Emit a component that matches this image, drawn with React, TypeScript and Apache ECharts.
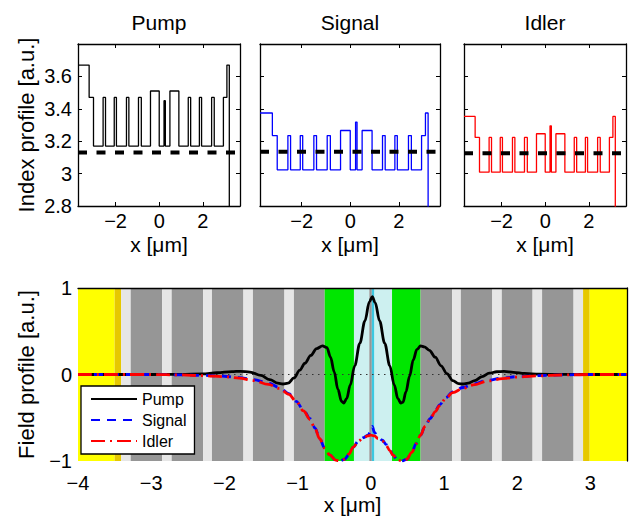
import React, { useEffect, useRef } from "react";
import * as echarts from "echarts";

const FONT = '"Liberation Sans", Arial, Helvetica, sans-serif';

// ---------- top panels: index profiles ----------
const indexXMin = -3.72;
const indexXMax = 3.7;
const indexYMin = 2.8;
const indexYMax = 3.8;
const indexTickX = [-2, 0, 2];
const indexTickY = [2.8, 3, 3.2, 3.4, 3.6];

const layerEdges = [-3.72, -3.21, -3.01, -2.57, -2.46, -2.06, -1.96, -1.5, -1.39, -0.95, -0.82, -0.4, 0.0, 0.22, 0.28, 0.49, 0.9, 1.33, 1.44, 1.84, 1.94, 2.4, 2.52, 2.94, 3.1, 3.21, 3.72];
const pumpIndex = [3.67, 3.47, 3.17, 3.47, 3.17, 3.47, 3.17, 3.47, 3.17, 3.47, 3.17, 3.51, 3.17, 3.45, 3.17, 3.51, 3.17, 3.47, 3.17, 3.47, 3.17, 3.47, 3.17, 3.47, 3.67, 1.0];
const signalIndex = [3.374, 3.235, 3.023, 3.235, 3.023, 3.235, 3.023, 3.235, 3.023, 3.235, 3.023, 3.266, 3.023, 3.318, 3.023, 3.266, 3.023, 3.235, 3.023, 3.235, 3.023, 3.235, 3.023, 3.235, 3.374, 1.0];
const idlerIndex = [3.353, 3.223, 3.009, 3.223, 3.009, 3.223, 3.009, 3.223, 3.009, 3.223, 3.009, 3.246, 3.009, 3.295, 3.009, 3.246, 3.009, 3.223, 3.009, 3.223, 3.009, 3.223, 3.009, 3.223, 3.353, 1.0];
const pumpNeff = 3.13;
const signalNeff = 3.135;
const idlerNeff = 3.125;

// ---------- bottom panel: field profiles ----------
const fieldXMin = -4;
const fieldXMax = 3.5;
const fieldYMin = -1;
const fieldYMax = 1;
const fieldTickX = [-4, -3, -2, -1, 0, 1, 2, 3];
const fieldTickY = [-1, 0, 1];

const bandEdges = [-4, -3.5, -3.41, -3.28, -2.85, -2.72, -2.29, -2.17, -1.74, -1.61, -1.18, -1.05, -0.63, -0.23, -0.02, 0.014, 0.05, 0.29, 0.68, 1.11, 1.23, 1.66, 1.79, 2.21, 2.34, 2.77, 2.9, 2.99, 3.5];
const bandKinds = ["substrate", "buffer", "high", "low", "high", "low", "high", "low", "high", "low", "high", "low", "core", "gap", "low", "defect", "gap", "core", "low", "high", "low", "high", "low", "high", "low", "high", "buffer", "substrate"];

const pumpField = [
  [-4.0, 0], [-3.0, 0], [-2.6, 0.002], [-2.3, 0.008], [-2.1, 0.02], [-1.9, 0.033], [-1.78, 0.037], [-1.65, 0.028],
  [-1.5, -0.01], [-1.38, -0.06], [-1.27, -0.1], [-1.2, -0.11], [-1.13, -0.1], [-1.05, -0.04], [-0.97, 0.05],
  [-0.9, 0.13], [-0.82, 0.22], [-0.74, 0.3], [-0.66, 0.33], [-0.6, 0.31], [-0.55, 0.2], [-0.5, 0.03],
  [-0.45, -0.17], [-0.4, -0.31], [-0.37, -0.33], [-0.33, -0.28], [-0.28, -0.12], [-0.22, 0.1], [-0.15, 0.36],
  [-0.08, 0.62], [-0.02, 0.84], [0.02, 0.9], [0.06, 0.83], [0.12, 0.62], [0.19, 0.36], [0.26, 0.1],
  [0.32, -0.12], [0.37, -0.28], [0.41, -0.33], [0.44, -0.32], [0.48, -0.2], [0.53, -0.02], [0.58, 0.17],
  [0.63, 0.29], [0.68, 0.33], [0.73, 0.32], [0.8, 0.28], [0.88, 0.2], [0.96, 0.1], [1.04, 0.01],
  [1.12, -0.07], [1.2, -0.105], [1.26, -0.11], [1.33, -0.1], [1.42, -0.07], [1.52, -0.025], [1.62, 0.015],
  [1.72, 0.032], [1.82, 0.035], [1.95, 0.025], [2.1, 0.012], [2.3, 0.004], [2.6, 0.001], [3.0, 0], [3.5, 0],
];
const signalField = [
  [-4, 0], [-3, 0], [-2.6, -0.004], [-2.3, -0.01], [-2.0, -0.02], [-1.8, -0.035], [-1.6, -0.06], [-1.4, -0.1],
  [-1.25, -0.15], [-1.12, -0.22], [-1.02, -0.31], [-0.92, -0.41], [-0.83, -0.51], [-0.76, -0.62], [-0.7, -0.74],
  [-0.63, -0.85], [-0.56, -0.93], [-0.48, -0.99], [-0.42, -1.0], [-0.36, -0.98], [-0.3, -0.93], [-0.24, -0.84],
  [-0.17, -0.77], [-0.1, -0.73], [-0.04, -0.7], [0.0, -0.66], [0.02, -0.6], [0.05, -0.67], [0.1, -0.73],
  [0.16, -0.76], [0.21, -0.81], [0.26, -0.87], [0.3, -0.93], [0.36, -0.98], [0.42, -1.0], [0.49, -0.98],
  [0.56, -0.9], [0.62, -0.8], [0.68, -0.7], [0.74, -0.6], [0.81, -0.51], [0.88, -0.42], [0.94, -0.35],
  [1.02, -0.27], [1.12, -0.2], [1.26, -0.15], [1.4, -0.11], [1.6, -0.065], [1.8, -0.04], [2.0, -0.025],
  [2.3, -0.012], [2.6, -0.005], [3.0, 0], [3.5, 0],
];
const idlerField = [
  [-4, 0], [-3, 0], [-2.6, -0.005], [-2.3, -0.013], [-2.0, -0.025], [-1.8, -0.042], [-1.6, -0.07], [-1.4, -0.115],
  [-1.25, -0.16], [-1.12, -0.23], [-1.02, -0.31], [-0.92, -0.42], [-0.83, -0.52], [-0.76, -0.63], [-0.7, -0.74],
  [-0.63, -0.85], [-0.56, -0.93], [-0.48, -0.99], [-0.42, -1.0], [-0.36, -0.98], [-0.3, -0.92], [-0.24, -0.84],
  [-0.17, -0.77], [-0.1, -0.73], [-0.04, -0.71], [0.0, -0.7], [0.05, -0.71], [0.1, -0.74], [0.16, -0.77],
  [0.21, -0.82], [0.26, -0.88], [0.3, -0.93], [0.36, -0.98], [0.42, -1.0], [0.49, -0.98], [0.56, -0.9],
  [0.62, -0.8], [0.68, -0.7], [0.74, -0.6], [0.81, -0.52], [0.88, -0.43], [0.94, -0.36], [1.02, -0.28],
  [1.12, -0.21], [1.26, -0.16], [1.4, -0.12], [1.6, -0.075], [1.8, -0.048], [2.0, -0.03], [2.3, -0.015],
  [2.6, -0.006], [3.0, 0], [3.5, 0],
];

const bandColors: Record<string, string> = {
  substrate: "#ffff00",
  buffer: "#e6c800",
  high: "#e6e6e6",
  low: "#969696",
  core: "#00e600",
  gap: "#cdf0f0",
  defect: "#3cc8e0",
};

const minusFmt = (v: number) => String(+Number(v).toFixed(2)).replace("-", "\u2212");

function stepPoints(edges: number[], values: number[]) {
  const pts: number[][] = [];
  for (let i = 0; i < values.length; i++) {
    pts.push([edges[i], values[i]]);
    pts.push([edges[i + 1], values[i]]);
  }
  return pts;
}

const tickFont = { color: "#000", fontSize: 20, fontFamily: FONT };
const nameFont = { color: "#000", fontSize: 21, fontFamily: FONT };
const ylabelFont = { color: "#000", fontSize: 22, fontFamily: FONT };

function topAxes(gridIndex: number, title: string, withY: boolean) {
  const line = { show: true, onZero: false, lineStyle: { color: "#000", width: 1.3 } };
  const xTick = { show: true, inside: true, length: 4, customValues: indexTickX, lineStyle: { color: "#000", width: 1 } };
  const yTick = { show: true, inside: true, length: 4, customValues: indexTickY, lineStyle: { color: "#000", width: 1 } };
  const xs = [
    {
      type: "value", gridIndex, min: indexXMin, max: indexXMax, position: "bottom",
      axisLine: line, axisTick: xTick,
      axisLabel: { ...tickFont, customValues: indexTickX, formatter: minusFmt, margin: 5 },
      splitLine: { show: false },
      name: "x [\u03bcm]", nameLocation: "middle", nameGap: 28, nameTextStyle: nameFont,
    },
    {
      type: "value", gridIndex, min: indexXMin, max: indexXMax, position: "top",
      axisLine: line, axisTick: xTick, axisLabel: { show: false }, splitLine: { show: false },
      name: title, nameLocation: "middle", nameGap: 11, nameTextStyle: nameFont,
    },
  ];
  const ys = [
    {
      type: "value", gridIndex, min: indexYMin, max: indexYMax, position: "left",
      axisLine: line, axisTick: yTick,
      axisLabel: withY ? { ...tickFont, customValues: indexTickY, formatter: minusFmt, margin: 6 } : { show: false },
      splitLine: { show: false },
      name: withY ? "Index profile [a.u.]" : "", nameLocation: "middle", nameGap: 41, nameTextStyle: ylabelFont,
    },
    {
      type: "value", gridIndex, min: indexYMin, max: indexYMax, position: "right",
      axisLine: line, axisTick: yTick, axisLabel: { show: false }, splitLine: { show: false },
    },
  ];
  return { xs, ys };
}

export default function App() {
  const ref = useRef<HTMLDivElement>(null);
  useEffect(() => {
    if (!ref.current) return;
    const chart = echarts.init(ref.current, undefined, { renderer: "svg" });

    const p = topAxes(0, "Pump", true);
    const s = topAxes(1, "Signal", false);
    const i = topAxes(2, "Idler", false);

    const fieldXAxes = [
      {
        type: "value", gridIndex: 3, min: fieldXMin, max: fieldXMax, position: "bottom",
        axisLine: { show: false, onZero: false }, axisTick: { show: false },
        axisLabel: { ...tickFont, customValues: fieldTickX, formatter: minusFmt, margin: 12 },
        splitLine: { show: false },
        name: "x [\u03bcm]", nameLocation: "middle", nameGap: 32, nameTextStyle: nameFont,
      },
      {
        type: "value", gridIndex: 3, min: fieldXMin, max: fieldXMax, position: "top", z: 10,
        axisLine: { show: true, onZero: false, lineStyle: { color: "#000", width: 1.3 } },
        axisTick: { show: false }, axisLabel: { show: false }, splitLine: { show: false },
      },
    ];
    const fieldYAxes = [
      {
        type: "value", gridIndex: 3, min: fieldYMin, max: fieldYMax, position: "left",
        axisLine: { show: false, onZero: false }, axisTick: { show: false },
        axisLabel: { ...tickFont, customValues: fieldTickY, formatter: minusFmt, margin: 6 },
        splitLine: { show: false },
        name: "Field profile [a.u.]", nameLocation: "middle", nameGap: 41, nameTextStyle: ylabelFont,
      },
      {
        type: "value", gridIndex: 3, min: fieldYMin, max: fieldYMax, position: "right", z: 10,
        axisLine: { show: true, onZero: false, lineStyle: { color: "#000", width: 1.3 } },
        axisTick: { show: false }, axisLabel: { show: false }, splitLine: { show: false },
      },
    ];

    const bands = bandKinds.map((k, idx) => [
      { xAxis: bandEdges[idx], itemStyle: { color: bandColors[k], opacity: 1, borderWidth: 0 } },
      { xAxis: bandEdges[idx + 1] },
    ]);

    const indexSeries = (name: string, xi: number, values: number[], color: string, neff: number) => [
      {
        name, type: "line", xAxisIndex: xi, yAxisIndex: xi, data: stepPoints(layerEdges, values),
        showSymbol: false, symbol: "none", lineStyle: { color, width: 1.3 }, clip: true, z: 3,
      },
      {
        name: name + " neff", type: "line", xAxisIndex: xi, yAxisIndex: xi,
        data: [[indexXMin, neff], [indexXMax, neff]],
        showSymbol: false, symbol: "none", lineStyle: { color: "#000", width: 4, type: [9, 9.5], cap: "butt" }, z: 4,
      },
    ];

    chart.setOption({
      animation: false,
      textStyle: { fontFamily: FONT },
      grid: [
        { left: 78, top: 44, width: 162, height: 162 },
        { left: 260, top: 44, width: 180, height: 162 },
        { left: 464, top: 44, width: 162, height: 162 },
        { left: 78, top: 288, width: 549, height: 173 },
      ],
      xAxis: [...p.xs, ...s.xs, ...i.xs, ...fieldXAxes],
      yAxis: [...p.ys, ...s.ys, ...i.ys, ...fieldYAxes],
      legend: {
        data: ["Pump", "Signal", "Idler"],
        orient: "vertical", left: 81, top: 386,
        backgroundColor: "#fff", borderColor: "#000", borderWidth: 1.3,
        padding: [5, 8, 5, 9], itemWidth: 46, itemHeight: 14, itemGap: 5,
        selectedMode: false,
        itemStyle: { opacity: 0, borderWidth: 0 },
        textStyle: { color: "#000", fontSize: 16, fontFamily: FONT },
      },
      series: [
        ...indexSeries("Pump index", 0, pumpIndex, "#000", pumpNeff),
        ...indexSeries("Signal index", 2, signalIndex, "#0000ff", signalNeff),
        ...indexSeries("Idler index", 4, idlerIndex, "#ff0000", idlerNeff),
        {
          name: "layers", type: "line", xAxisIndex: 6, yAxisIndex: 6, data: [[fieldXMin, 0]],
          symbol: "none", lineStyle: { opacity: 0 }, z: 1, silent: true,
          markArea: { silent: true, label: { show: false }, data: bands },
        },
        {
          name: "zero", type: "line", xAxisIndex: 6, yAxisIndex: 6, data: [[fieldXMin, 0], [fieldXMax, 0]],
          symbol: "none", lineStyle: { color: "#333", width: 1.2, type: [1.5, 4.5] }, z: 2, silent: true,
        },
        {
          name: "Pump", type: "line", xAxisIndex: 6, yAxisIndex: 6, data: pumpField,
          symbol: "none", smooth: 0.35, smoothMonotone: "x", lineStyle: { color: "#000", width: 2.8 }, z: 3,
        },
        {
          name: "Signal", type: "line", xAxisIndex: 6, yAxisIndex: 6, data: signalField,
          symbol: "none", smooth: 0.35, smoothMonotone: "x",
          lineStyle: { color: "#0000ff", width: 2.8, type: [9, 7] }, z: 4,
        },
        {
          name: "Idler", type: "line", xAxisIndex: 6, yAxisIndex: 6, data: idlerField,
          symbol: "none", smooth: 0.35, smoothMonotone: "x",
          lineStyle: { color: "#ff0000", width: 2.8, type: [14, 5, 2, 5] }, z: 5,
        },
      ],
    });
    return () => chart.dispose();
  }, []);
  return (
    <div
      ref={ref}
      style={{ position: "fixed", left: 0, top: 0, width: 633, height: 517, background: "#fff" }}
    />
  );
}
